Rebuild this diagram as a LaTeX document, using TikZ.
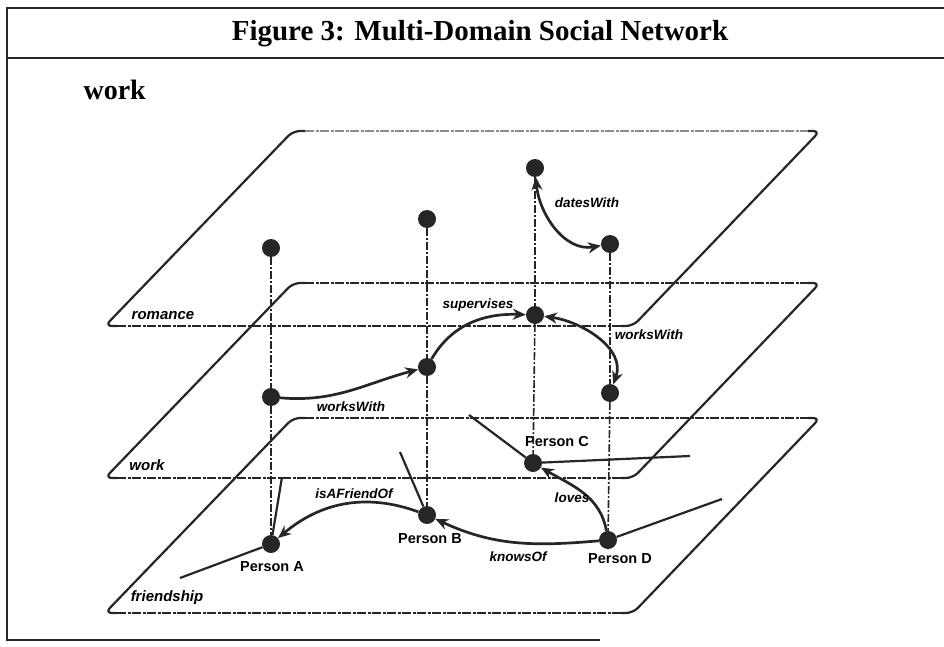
\documentclass[tikz,border=0pt]{standalone}
\usepackage{fontspec}
\setmainfont{Liberation Serif}
\setsansfont{Liberation Sans}
\usetikzlibrary{arrows.meta}

\tikzset{
  person/.style={circle,fill=black!85,draw=none,inner sep=0pt,minimum size=18pt},
  rel/.style={line width=2.7pt,draw=black!85},
  tipend/.style={-{Stealth[length=13pt,width=11pt]}},
  tipstart/.style={{Stealth[length=13pt,width=11pt]}-},
  tipboth/.style={{Stealth[length=13pt,width=11pt]}-{Stealth[length=13pt,width=11pt]}},
  vline/.style={line width=1.6pt,draw=black!85,dash pattern=on 8pt off 2pt on 2pt off 2pt},
  stub/.style={line width=2.2pt,draw=black!85},
  planeside/.style={line width=2.2pt,draw=black!85,rounded corners=7pt},
  planeedge/.style={line width=1.9pt,dash pattern=on 9pt off 1.5pt on 3pt off 1.5pt},
  relname/.style={font=\sffamily\bfseries\itshape\fontsize{13.5}{14}\selectfont,inner sep=1pt},
  personname/.style={font=\sffamily\bfseries\fontsize{14.5}{15}\selectfont,inner sep=1pt},
  layername/.style={font=\sffamily\bfseries\itshape\fontsize{15}{16}\selectfont,inner sep=1pt},
  pics/plane/.style={code={
    \draw[planeside] (305,0) -- (293,0) -- (105,195) -- (117,195);
    \draw[planeside] (808,0) -- (820,0) -- (633,195) -- (621,195);
    \draw[planeedge,draw=#1] (305,0) -- (808,0);
    \draw[planeedge,draw=black!85] (117,195) -- (621,195);
  }},
  pics/plane/.default={black!85}
}

\begin{document}
\begin{tikzpicture}[x=1pt,y=-1pt]
  \useasboundingbox (0,0) rectangle (944,647);

  % frame and heading
  \draw[line width=1.8pt,black!85] (950,8) -- (7,8) -- (7,640) -- (600,640);
  \draw[line width=1.8pt,black!85] (7,58) -- (950,58);
  \node (title) at (480,34) {\bfseries\fontsize{29}{30}\selectfont Figure 3: Multi-Domain Social Network};
  \node[anchor=west] (heading) at (80,90) {\bfseries\fontsize{28}{30}\selectfont work};

  % the three layers
  \pic at (0,131) {plane={black!45}};
  \pic at (0,283) {plane};
  \pic at (0,418) {plane};
  \node[layername] (lromance) at (163,316) {romance};
  \node[layername] (lwork) at (147,465) {work};
  \node[layername] (lfriend) at (167,598) {friendship};

  % persons on each layer
  \node[person] (RA) at (271,248) {};
  \node[person] (RB) at (427,219) {};
  \node[person] (RC) at (535,168) {};
  \node[person] (RD) at (610,244) {};
  \node[person] (WA) at (271,397) {};
  \node[person] (WB) at (427,367) {};
  \node[person] (WC) at (535,315) {};
  \node[person] (WD) at (610,393) {};
  \node[person] (FA) at (271,544) {};
  \node[person] (FB) at (427,515) {};
  \node[person] (FC) at (533,463) {};
  \node[person] (FD) at (608,540) {};

  \node[personname] (nA) at (272,567) {Person A};
  \node[personname] (nB) at (430,539) {Person B};
  \node[personname] (nC) at (557,442) {Person C};
  \node[personname] (nD) at (620,559) {Person D};

  % the same person across layers
  \draw[vline] (RA) -- (WA);  \draw[vline] (WA) -- (FA);
  \draw[vline] (RB) -- (WB);  \draw[vline] (WB) -- (FB);
  \draw[vline] (RC) -- (WC);  \draw[vline] (WC) -- (FC);
  \draw[vline] (RD) -- (WD);  \draw[vline] (WD) -- (FD);

  % ties leading out of the friendship layer
  \coordinate (sA1) at (180,578);
  \coordinate (sA2) at (282,477);
  \coordinate (sB) at (400,452);
  \coordinate (sC1) at (469,415);
  \coordinate (sC2) at (690,456);
  \coordinate (sD) at (722,499);
  \draw[stub] (FA) -- (sA1);
  \draw[stub] (FA) -- (sA2);
  \draw[stub] (FB) -- (sB);
  \draw[stub] (FC) -- (sC1);
  \draw[stub] (FC) -- (sC2);
  \draw[stub] (FD) -- (sD);

  % relations
  \draw[rel,tipboth] (RC) to[out=-85,in=190] (RD);
  \node[relname] (ldates) at (587,203) {datesWith};

  \draw[rel,tipend] (WA) to[out=-5,in=195] (WB);
  \node[relname] (lworks1) at (351,407) {worksWith};
  \draw[rel,tipend] (WB) to[out=60,in=178] (WC);
  \node[relname] (lsuper) at (478,305) {supervises};
  \draw[rel,tipboth] (WC) to[out=-8,in=70] (WD);
  \node[relname] (lworks2) at (649,335) {worksWith};

  \draw[rel,tipend] (FB) to[out=160,in=40] (FA);
  \node[relname] (lfriendof) at (354,494) {isAFriendOf};
  \draw[rel,tipstart] (FB) to[out=-25,in=185] (FD);
  \node[relname] (lknows) at (518,557) {knowsOf};
  \draw[rel,tipstart] (FC) to[out=-30,in=100] (FD);
  \node[relname] (lloves) at (572,498) {loves};
\end{tikzpicture}
\end{document}
